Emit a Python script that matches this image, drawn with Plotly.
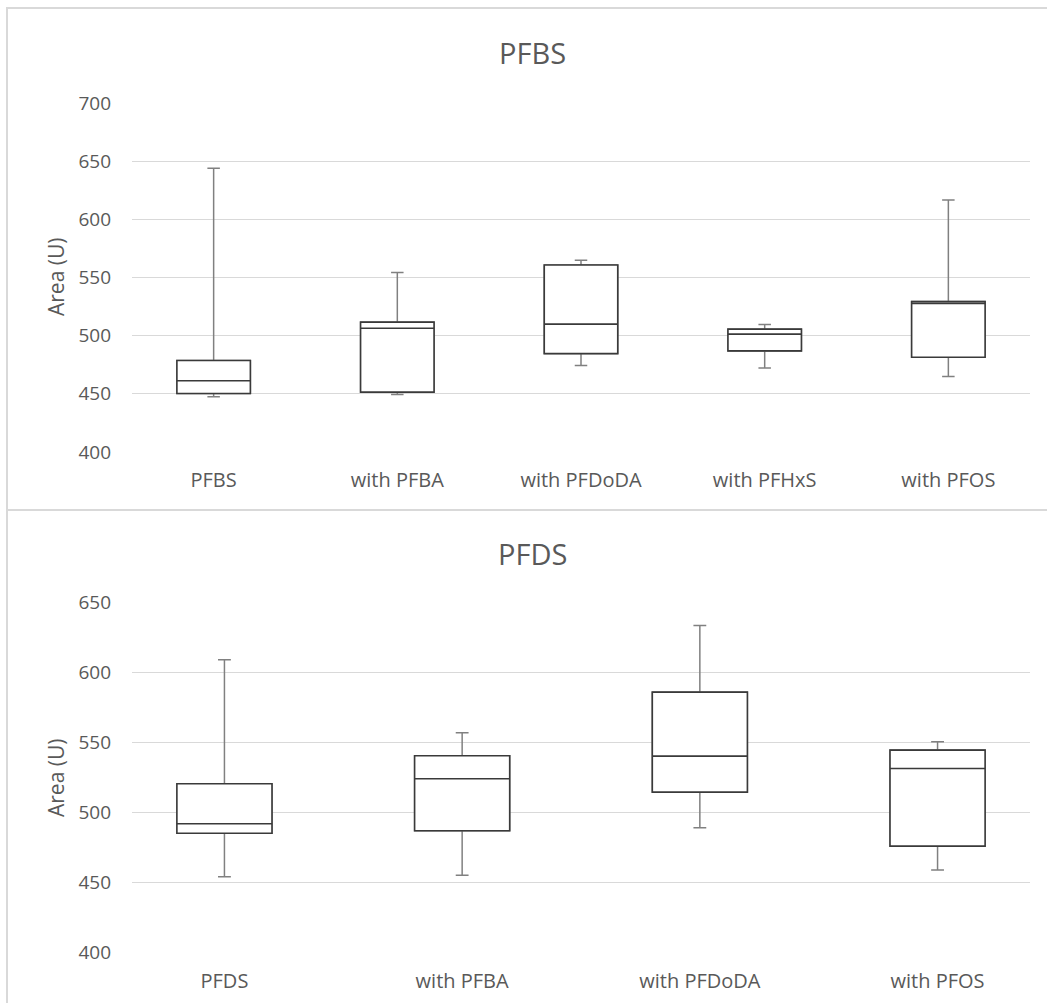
import plotly.graph_objects as go
from plotly.subplots import make_subplots

W, H = 1047, 1003

# PFBS panel: five-number summaries per condition
pfbs_categories = ["PFBS", "with PFBA", "with PFDoDA", "with PFHxS", "with PFOS"]
pfbs_min = [447.4, 449.4, 474.3, 472.3, 464.9]
pfbs_q1 = [450.3, 451.5, 484.6, 486.9, 481.5]
pfbs_median = [461.2, 506.4, 509.9, 501.3, 527.6]
pfbs_q3 = [478.6, 511.6, 560.8, 505.6, 529.3]
pfbs_max = [643.9, 554.2, 564.9, 509.5, 616.7]

# PFDS panel
pfds_categories = ["PFDS", "with PFBA", "with PFDoDA", "with PFOS"]
pfds_min = [454.3, 455.3, 489.3, 459.0]
pfds_q1 = [485.3, 487.1, 514.7, 476.1]
pfds_median = [492.1, 524.3, 540.4, 531.6]
pfds_q3 = [520.7, 540.7, 586.1, 544.7]
pfds_max = [609.3, 557.1, 633.8, 550.7]

TEXT = "#595959"
GRID = "#d9d9d9"
BOX_LINE = "#3a3a3a"
WHISKER = "#808080"
FONT = "Open Sans"


def px_x(x):
    return x / W


def px_y(y):
    return 1 - y / H


fig = make_subplots(rows=2, cols=1)


def add_panel(row, cats, lo, q1, med, q3, hi, whisker_w):
    # whiskers (and box outline underneath) in grey
    fig.add_trace(go.Box(
        x=cats, q1=q1, median=med, q3=q3, lowerfence=lo, upperfence=hi,
        width=0.4, whiskerwidth=whisker_w, fillcolor="white",
        line=dict(color=WHISKER, width=1.5), boxpoints=False,
        showlegend=False, hoverinfo="skip",
    ), row=row, col=1)
    # box body with median drawn in a darker line on top
    fig.add_trace(go.Box(
        x=cats, q1=q1, median=med, q3=q3, lowerfence=q1, upperfence=q3,
        width=0.4, whiskerwidth=0, fillcolor="white",
        line=dict(color=BOX_LINE, width=1.6), boxpoints=False,
        showlegend=False, hoverinfo="skip",
    ), row=row, col=1)


add_panel(1, pfbs_categories, pfbs_min, pfbs_q1, pfbs_median, pfbs_q3, pfbs_max, 0.17)
add_panel(2, pfds_categories, pfds_min, pfds_q1, pfds_median, pfds_q3, pfds_max, 0.135)

xdom = [px_x(132), px_x(1030)]

fig.update_xaxes(domain=xdom, showgrid=False, showline=False, zeroline=False,
                 tickfont=dict(family=FONT, size=20, color=TEXT),
                 ticklabelstandoff=14, automargin=False, fixedrange=True)
fig.update_yaxes(showgrid=True, gridcolor=GRID, gridwidth=1, showline=False,
                 zeroline=False, tickfont=dict(family=FONT, size=19, color=TEXT),
                 ticklabelstandoff=20, automargin=False, fixedrange=True)

fig.update_yaxes(domain=[px_y(452), px_y(103)], range=[400, 700], dtick=50,
                 row=1, col=1)
fig.update_yaxes(domain=[px_y(952.7), px_y(602.7)], range=[400, 650], dtick=50,
                 row=2, col=1)

annotations = []
for label, ty, ay in [("PFBS", 53, 277), ("PFDS", 553, 778)]:
    annotations.append(dict(
        text=label, x=px_x(532), y=px_y(ty), xref="paper", yref="paper",
        showarrow=False, xanchor="center", yanchor="middle",
        font=dict(family=FONT, size=29, color=TEXT)))
    annotations.append(dict(
        text="Area (U)", x=px_x(56), y=px_y(ay), xref="paper", yref="paper",
        showarrow=False, xanchor="center", yanchor="middle", textangle=-90,
        font=dict(family=FONT, size=21, color=TEXT)))

shapes = [
    dict(type="rect", xref="paper", yref="paper",
         x0=px_x(7), x1=1.02, y0=px_y(510), y1=px_y(8),
         line=dict(color=GRID, width=2), layer="below"),
    dict(type="rect", xref="paper", yref="paper",
         x0=px_x(7), x1=1.02, y0=-0.02, y1=px_y(510),
         line=dict(color=GRID, width=2), layer="below"),
]

fig.update_layout(
    width=W, height=H,
    margin=dict(l=0, r=0, t=0, b=0),
    paper_bgcolor="white", plot_bgcolor="white",
    boxmode="overlay",
    annotations=annotations,
    shapes=shapes,
    font=dict(family=FONT, color=TEXT),
)

fig.write_html("out.html", config={"displayModeBar": False})
